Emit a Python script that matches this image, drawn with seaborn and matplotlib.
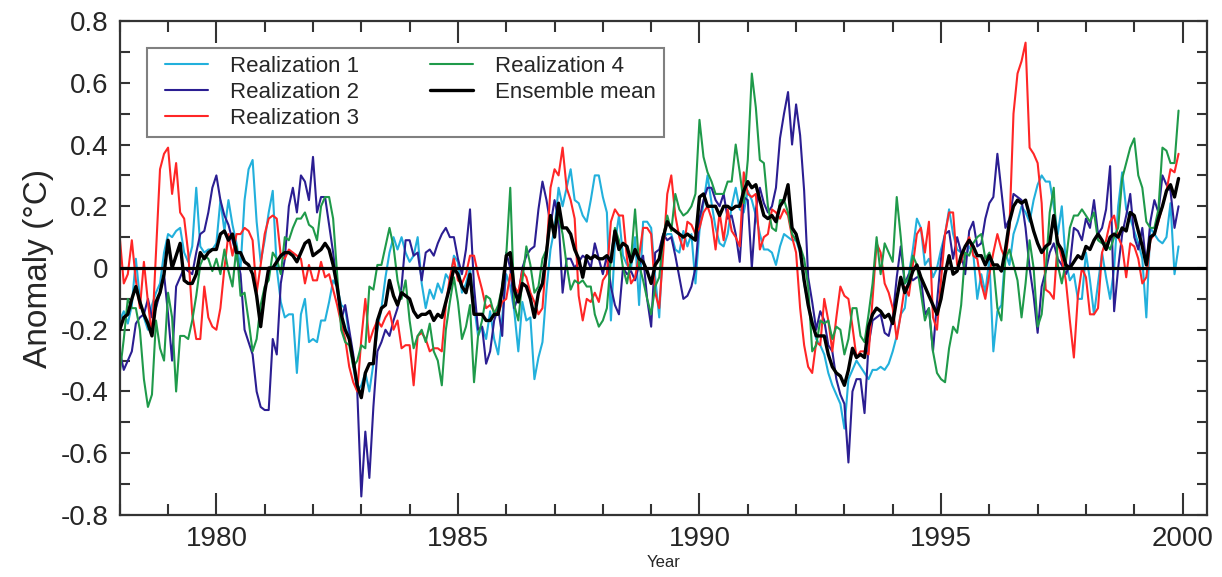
import numpy as np
import pandas as pd
import seaborn as sns
import matplotlib.pyplot as plt
from matplotlib.lines import Line2D
from matplotlib.legend_handler import HandlerLine2D
from matplotlib.ticker import MultipleLocator, FuncFormatter

# monthly anomalies, Jan 1978 - Dec 1999 (one row per year)
first_year = 1978

realization_1 = [
    -0.17, -0.14, -0.18, -0.12, 0.03, -0.10, -0.16, -0.20, -0.12, -0.08, -0.05, 0.05,
    0.11, 0.10, 0.12, 0.13, 0.05, 0.02, 0.07, 0.26, 0.07, 0.05, 0.06, 0.06,
    0.08, 0.22, 0.12, 0.22, 0.14, 0.08, 0.00, 0.22, 0.32, 0.35, 0.15, 0.02,
    0.09, 0.18, 0.25, 0.00, -0.11, -0.16, -0.15, -0.15, -0.34, -0.15, -0.10, -0.24,
    -0.23, -0.24, -0.17, -0.17, -0.11, -0.04, -0.06, -0.12, -0.13, -0.22, -0.32, -0.40,
    -0.38, -0.34, -0.40, -0.31, -0.20, -0.13, -0.03, 0.05, 0.10, 0.06, 0.10, 0.05,
    0.02, 0.04, 0.10, -0.05, -0.13, -0.07, -0.10, -0.05, -0.08, -0.02, -0.04, 0.04,
    0.02, -0.08, -0.05, 0.00, -0.12, -0.22, -0.19, -0.23, -0.14, -0.23, -0.28, -0.16,
    -0.02, -0.06, -0.14, -0.27, -0.11, -0.17, -0.16, -0.36, -0.29, -0.24, -0.07, 0.06,
    0.13, 0.26, 0.20, 0.26, 0.32, 0.22, 0.21, 0.17, 0.15, 0.22, 0.30, 0.30,
    0.23, 0.18, -0.17, 0.08, 0.17, 0.04, 0.01, 0.00, 0.10, -0.12, 0.15, 0.15,
    0.13, -0.03, -0.16, 0.10, 0.11, 0.11, 0.06, 0.05, 0.12, 0.07, 0.11, -0.05,
    0.12, 0.21, 0.30, 0.21, 0.13, 0.08, 0.07, 0.11, 0.20, 0.26, 0.19, 0.18,
    0.25, 0.22, 0.17, 0.11, 0.06, 0.06, 0.05, 0.01, 0.07, 0.11, 0.10, 0.09,
    0.09, 0.05, -0.05, -0.12, -0.17, -0.23, -0.25, -0.28, -0.34, -0.38, -0.41, -0.44,
    -0.52, -0.36, -0.33, -0.30, -0.32, -0.34, -0.36, -0.33, -0.33, -0.32, -0.33, -0.31,
    -0.27, -0.22, -0.15, -0.13, -0.02, 0.06, 0.16, 0.13, 0.01, 0.03, -0.03, 0.00,
    0.06, 0.11, 0.19, 0.11, 0.06, 0.05, 0.03, 0.07, 0.05, -0.10, -0.02, -0.08,
    0.03, -0.27, -0.14, -0.12, 0.05, 0.01, 0.11, 0.15, 0.20, 0.18, 0.15, 0.22,
    0.27, 0.30, 0.28, 0.28, 0.20, 0.11, 0.20, 0.02, -0.04, -0.02, -0.10, -0.10,
    0.05, -0.04, -0.15, -0.05, 0.05, -0.03, -0.10, 0.00, 0.20, 0.31, 0.19, 0.16,
    0.12, 0.08, 0.03, -0.16, 0.13, 0.11, 0.09, 0.08, 0.10, 0.21, -0.02, 0.07,
]

realization_2 = [
    -0.27, -0.33, -0.30, -0.27, -0.18, -0.16, -0.15, -0.10, -0.16, -0.13, -0.08, -0.02,
    -0.15, -0.30, -0.06, -0.03, 0.00, -0.01, -0.02, 0.05, 0.11, 0.12, 0.18, 0.26,
    0.30, 0.22, 0.17, 0.14, 0.09, 0.04, -0.02, -0.20, -0.24, -0.28, -0.40, -0.45,
    -0.46, -0.46, -0.23, -0.28, -0.05, 0.03, 0.20, 0.26, 0.18, 0.30, 0.28, 0.22,
    0.36, 0.18, 0.23, 0.23, 0.14, 0.05, -0.06, -0.17, -0.12, -0.20, -0.28, -0.40,
    -0.74, -0.53, -0.68, -0.45, -0.27, -0.24, -0.20, -0.22, -0.17, -0.13, -0.06, 0.09,
    0.09, 0.04, 0.05, -0.04, 0.05, 0.06, 0.04, 0.08, 0.11, 0.13, 0.10, 0.10,
    0.03, -0.02, 0.06, 0.19, -0.06, -0.20, -0.19, -0.31, -0.27, -0.17, -0.13, -0.22,
    0.05, 0.00, -0.13, -0.09, 0.00, 0.04, 0.06, 0.07, 0.19, 0.28, 0.22, 0.14,
    0.22, 0.16, -0.08, 0.03, 0.03, 0.00, 0.02, 0.04, 0.03, 0.00, 0.08, 0.03,
    -0.02, 0.04, -0.06, -0.12, -0.15, 0.00, -0.02, -0.01, -0.04, 0.01, 0.04, -0.10,
    -0.19, 0.05, 0.06, 0.11, 0.09, 0.10, 0.04, -0.03, -0.10, -0.09, -0.06, 0.00,
    0.16, 0.22, 0.26, 0.26, 0.22, 0.20, 0.24, 0.16, 0.17, 0.11, 0.02, 0.23,
    0.22, 0.00, 0.19, 0.26, 0.21, 0.18, 0.20, 0.26, 0.42, 0.50, 0.57, 0.40,
    0.53, 0.43, 0.25, -0.03, -0.11, -0.20, -0.14, -0.17, -0.25, -0.27, -0.36, -0.41,
    -0.44, -0.63, -0.40, -0.36, -0.36, -0.47, -0.25, -0.17, -0.16, -0.15, -0.21, -0.22,
    -0.16, -0.03, 0.07, -0.05, -0.02, -0.04, -0.03, -0.03, -0.15, -0.13, -0.27, -0.11,
    0.03, 0.11, 0.12, 0.03, 0.10, 0.05, -0.02, 0.12, 0.15, 0.07, 0.08, 0.16,
    0.21, 0.23, 0.37, 0.25, 0.13, 0.16, 0.24, 0.23, 0.22, 0.13, 0.00, -0.09,
    -0.21, -0.06, -0.01, 0.05, 0.08, 0.03, 0.01, -0.02, 0.01, 0.13, 0.12, 0.09,
    0.16, 0.13, 0.22, 0.11, 0.13, 0.19, 0.33, -0.14, 0.00, 0.11, 0.17, 0.24,
    0.10, 0.06, 0.13, 0.01, 0.15, 0.22, 0.18, 0.30, 0.27, 0.25, 0.13, 0.20,
]

realization_3 = [
    0.10, -0.05, -0.02, 0.09, -0.04, -0.13, 0.02, -0.11, -0.22, 0.05, 0.32, 0.37,
    0.39, 0.24, 0.34, 0.18, 0.16, 0.05, -0.15, -0.23, -0.23, -0.06, -0.16, -0.19,
    -0.20, -0.13, 0.00, 0.11, 0.04, 0.11, 0.11, 0.13, 0.12, 0.09, -0.08, 0.01,
    0.11, 0.16, 0.17, 0.16, 0.04, 0.03, 0.06, 0.05, 0.04, 0.03, -0.05, 0.01,
    -0.04, -0.04, 0.02, -0.03, -0.02, -0.07, -0.12, -0.18, -0.23, -0.32, -0.37, -0.40,
    -0.23, -0.10, -0.24, -0.20, -0.17, -0.19, -0.16, -0.14, -0.20, -0.17, -0.26, -0.25,
    -0.25, -0.38, -0.22, -0.21, -0.23, -0.27, -0.26, -0.26, -0.27, -0.12, -0.03, 0.03,
    -0.04, -0.05, -0.02, 0.04, 0.04, -0.02, -0.07, -0.13, -0.12, -0.14, -0.15, -0.11,
    -0.10, -0.02, -0.06, -0.08, -0.01, -0.03, -0.08, -0.11, -0.15, -0.13, 0.05, 0.26,
    0.32, 0.30, 0.39, 0.26, 0.22, 0.16, -0.09, -0.17, -0.10, -0.11, -0.08, -0.11,
    -0.04, -0.02, 0.15, 0.19, 0.17, 0.17, 0.03, -0.05, -0.03, 0.04, 0.13, 0.13,
    0.11, -0.08, -0.13, 0.05, 0.24, 0.30, 0.17, 0.10, 0.06, 0.15, 0.14, 0.11,
    0.13, 0.18, 0.20, 0.16, 0.06, 0.18, 0.09, 0.19, 0.12, 0.10, 0.07, 0.31,
    0.24, 0.23, 0.24, 0.06, 0.10, 0.11, 0.19, 0.18, 0.16, 0.19, 0.17, 0.10,
    0.05, -0.13, -0.25, -0.32, -0.34, -0.24, -0.25, -0.10, -0.17, -0.27, -0.16, -0.06,
    -0.09, -0.10, -0.19, -0.29, -0.27, -0.27, -0.28, -0.10, 0.08, 0.05, -0.05, -0.08,
    -0.13, -0.23, -0.15, -0.06, -0.09, 0.01, 0.11, 0.13, 0.05, 0.15, -0.16, -0.20,
    -0.04, 0.11, 0.18, 0.18, 0.01, 0.02, 0.07, 0.10, 0.04, 0.03, -0.05, -0.10,
    -0.02, 0.05, 0.11, 0.06, 0.03, 0.13, 0.50, 0.63, 0.67, 0.73, 0.39, 0.37,
    0.34, 0.21, -0.07, -0.08, -0.10, 0.09, 0.03, -0.04, -0.17, -0.29, -0.09, 0.00,
    -0.03, -0.15, -0.15, -0.13, 0.05, 0.09, 0.15, 0.17, 0.10, 0.07, -0.03, 0.08,
    0.07, 0.03, -0.05, -0.03, 0.09, 0.11, 0.15, 0.20, 0.25, 0.32, 0.31, 0.37,
]

realization_4 = [
    -0.34, -0.23, -0.10, -0.13, -0.13, -0.20, -0.36, -0.45, -0.41, -0.17, -0.26, -0.30,
    -0.08, -0.16, -0.40, -0.22, -0.22, -0.23, -0.17, -0.09, 0.01, 0.04, 0.03, -0.01,
    0.03, -0.02, 0.06, -0.01, -0.06, 0.07, -0.09, -0.08, -0.17, -0.27, -0.23, -0.12,
    -0.06, -0.04, 0.05, 0.03, -0.02, 0.10, 0.09, 0.13, 0.16, 0.16, 0.18, 0.14,
    0.13, 0.09, 0.20, 0.23, 0.23, 0.16, -0.02, -0.20, -0.24, -0.25, -0.32, -0.30,
    -0.25, -0.26, -0.06, -0.07, 0.01, 0.01, 0.07, 0.13, 0.07, -0.04, -0.10, -0.04,
    -0.17, -0.26, -0.22, -0.20, -0.24, -0.18, -0.27, -0.30, -0.38, -0.20, -0.11, -0.03,
    -0.11, -0.23, -0.19, -0.12, -0.37, -0.22, -0.17, -0.09, -0.10, -0.15, -0.12, -0.06,
    0.04, 0.26, -0.12, -0.17, -0.04, 0.07, 0.01, -0.08, -0.06, 0.03, 0.06, 0.15,
    0.13, 0.17, 0.11, 0.01, -0.07, -0.04, -0.05, -0.04, -0.06, -0.06, -0.15, -0.19,
    -0.17, -0.13, 0.03, 0.13, 0.09, 0.00, -0.05, 0.03, 0.19, 0.01, -0.04, -0.10,
    -0.15, -0.06, -0.03, 0.10, 0.17, 0.12, 0.24, 0.19, 0.17, 0.18, 0.20, 0.24,
    0.48, 0.36, 0.31, 0.28, 0.24, 0.24, 0.24, 0.28, 0.28, 0.40, 0.31, 0.21,
    0.35, 0.63, 0.52, 0.35, 0.34, 0.20, 0.13, 0.12, 0.22, 0.22, 0.18, 0.11,
    0.09, 0.07, 0.03, -0.06, -0.27, -0.25, -0.17, -0.18, -0.17, -0.23, -0.19, -0.20,
    -0.28, -0.23, -0.13, -0.13, -0.22, -0.24, -0.15, -0.05, 0.10, -0.02, 0.08, 0.05,
    0.02, 0.23, 0.10, -0.05, -0.03, 0.04, 0.01, -0.08, -0.17, -0.13, -0.27, -0.34,
    -0.36, -0.37, -0.26, -0.19, -0.21, -0.12, 0.05, 0.04, 0.08, 0.10, 0.11, 0.03,
    0.05, 0.01, -0.13, -0.17, 0.03, 0.06, 0.01, -0.04, -0.16, -0.05, 0.09, 0.00,
    -0.19, -0.15, -0.01, 0.18, 0.26, 0.01, -0.05, 0.02, 0.13, 0.17, 0.17, 0.19,
    0.17, 0.15, 0.18, 0.09, 0.08, 0.08, 0.06, 0.10, 0.13, 0.29, 0.34, 0.39,
    0.42, 0.30, 0.26, 0.15, 0.13, 0.13, 0.19, 0.39, 0.38, 0.34, 0.34, 0.51,
]

ensemble_mean = [
    -0.20, -0.16, -0.15, -0.10, -0.06, -0.11, -0.15, -0.18, -0.22, -0.11, -0.08, -0.02,
    0.09, 0.00, 0.04, 0.08, -0.04, -0.05, -0.05, -0.02, 0.05, 0.03, 0.05, 0.06,
    0.06, 0.11, 0.12, 0.09, 0.11, 0.05, 0.05, 0.02, 0.01, -0.02, -0.09, -0.19,
    -0.08, 0.00, 0.00, 0.02, 0.04, 0.05, 0.05, 0.04, 0.02, 0.05, 0.08, 0.09,
    0.04, 0.05, 0.06, 0.08, 0.06, 0.01, -0.06, -0.15, -0.20, -0.23, -0.30, -0.38,
    -0.42, -0.34, -0.31, -0.31, -0.17, -0.13, -0.12, -0.04, -0.09, -0.12, -0.08, -0.09,
    -0.10, -0.14, -0.16, -0.15, -0.15, -0.14, -0.17, -0.15, -0.16, -0.11, -0.06, 0.00,
    -0.02, -0.06, -0.08, -0.02, -0.15, -0.15, -0.15, -0.17, -0.17, -0.15, -0.15, -0.07,
    0.04, 0.05, -0.07, -0.11, -0.05, -0.06, -0.10, -0.16, -0.08, -0.05, 0.05, 0.17,
    0.10, 0.21, 0.13, 0.13, 0.11, 0.06, 0.03, -0.03, 0.04, 0.03, 0.04, 0.03,
    0.03, 0.04, 0.02, 0.12, 0.06, 0.08, 0.07, 0.02, 0.06, 0.03, 0.02, -0.01,
    -0.05, 0.01, 0.03, 0.10, 0.15, 0.13, 0.12, 0.11, 0.10, 0.11, 0.10, 0.09,
    0.23, 0.24, 0.20, 0.20, 0.20, 0.17, 0.20, 0.20, 0.19, 0.20, 0.20, 0.25,
    0.28, 0.26, 0.27, 0.22, 0.17, 0.16, 0.17, 0.15, 0.20, 0.22, 0.27, 0.13,
    0.11, 0.06, -0.04, -0.12, -0.18, -0.22, -0.22, -0.22, -0.28, -0.32, -0.34, -0.35,
    -0.38, -0.33, -0.26, -0.29, -0.28, -0.29, -0.19, -0.15, -0.13, -0.14, -0.16, -0.15,
    -0.18, -0.10, -0.03, -0.08, -0.05, -0.01, 0.01, -0.03, -0.06, -0.09, -0.12, -0.15,
    -0.10, -0.02, 0.04, -0.02, -0.01, 0.04, 0.07, 0.09, 0.07, 0.04, 0.04, 0.01,
    0.04, 0.01, 0.01, -0.01, 0.06, 0.15, 0.20, 0.22, 0.21, 0.22, 0.17, 0.12,
    0.08, 0.05, 0.07, 0.08, 0.17, 0.08, 0.06, 0.01, 0.00, 0.02, 0.04, 0.03,
    0.07, 0.06, 0.09, 0.11, 0.09, 0.06, 0.10, 0.11, 0.10, 0.13, 0.12, 0.18,
    0.17, 0.12, 0.07, 0.01, 0.10, 0.11, 0.16, 0.20, 0.25, 0.27, 0.23, 0.29,
]

names = ['Realization 1', 'Realization 2', 'Realization 3', 'Realization 4']
colors = {'Realization 1': '#22b0dc', 'Realization 2': '#2b1e92',
          'Realization 3': '#ff2626', 'Realization 4': '#1f9a4a'}

years = first_year + np.arange(len(ensemble_mean)) / 12
runs = [realization_1, realization_2, realization_3, realization_4]

df = pd.concat([pd.DataFrame({'year': years, 'anomaly': v, 'series': n})
                for n, v in zip(names, runs)], ignore_index=True)
mean_df = pd.DataFrame({'year': years, 'anomaly': ensemble_mean})


class InsetLine(HandlerLine2D):
    # legend line that leaves a gap on its left, so the box gets more side padding
    def create_artists(self, legend, orig_handle, xdescent, ydescent,
                       width, height, fontsize, trans):
        arts = super().create_artists(legend, orig_handle, xdescent, ydescent,
                                      width, height, fontsize, trans)
        for a in arts:
            x = np.asarray(a.get_xdata(), dtype=float)
            if len(x) > 1:
                x = np.linspace(x[0] + 0.2 * width, x[-1], len(x))
                a.set_xdata(x)
        return arts


sns.set_style('ticks')
plt.rcParams['font.family'] = ['Liberation Sans', 'DejaVu Sans']
plt.rcParams['axes.unicode_minus'] = False

fig = plt.figure(figsize=(12.22, 5.77), dpi=100)
ax = fig.add_axes([0.098, 0.1075, 0.8895, 0.856])

sns.lineplot(data=df, x='year', y='anomaly', hue='series', hue_order=names,
             palette=colors, linewidth=1.5, estimator=None, legend=False, ax=ax)
ax.axhline(0, color='black', lw=2.3, zorder=3)
sns.lineplot(data=mean_df, x='year', y='anomaly', color='black',
             linewidth=2.4, ax=ax, zorder=4)

ax.set_xlim(1978, 2000.5)
ax.set_ylim(-0.8, 0.8)
ax.xaxis.set_major_locator(MultipleLocator(5))
ax.xaxis.set_minor_locator(MultipleLocator(1))
ax.yaxis.set_major_locator(MultipleLocator(0.2))
ax.yaxis.set_minor_locator(MultipleLocator(0.1))
ax.xaxis.set_major_formatter(FuncFormatter(lambda v, p: f'{v:.0f}'))
ax.yaxis.set_major_formatter(FuncFormatter(lambda v, p: f'{round(v, 1) + 0.0:g}'))

ax.tick_params(which='both', direction='in', top=True, right=True,
               width=1.5, color='#333333')
ax.tick_params(axis='x', which='major', length=16, labelsize=20, pad=8)
ax.tick_params(axis='x', which='minor', length=8)
ax.tick_params(axis='y', which='both', length=7, labelsize=20, pad=8)
for sp in ax.spines.values():
    sp.set_linewidth(1.6)
    sp.set_color('#333333')

ax.set_xlabel('Year', fontsize=12, labelpad=2)
ax.set_ylabel('Anomaly (°C)', fontsize=24, labelpad=5)

handles = [Line2D([], [], color=colors[n], lw=1.5) for n in names]
handles.append(Line2D([], [], color='black', lw=2.4))
leg = ax.legend(handles, names + ['Ensemble mean'], ncol=2, loc='upper left',
                bbox_to_anchor=(0.025, 0.945), borderaxespad=0, fontsize=16,
                frameon=True, fancybox=False, edgecolor='#808080', framealpha=1,
                handlelength=2.4, handletextpad=1.0, columnspacing=2.7,
                labelspacing=0.22, borderpad=0.35,
                handler_map={Line2D: InsetLine()})
leg.get_frame().set_linewidth(1.5)

fig.savefig('out.png', dpi=100)
